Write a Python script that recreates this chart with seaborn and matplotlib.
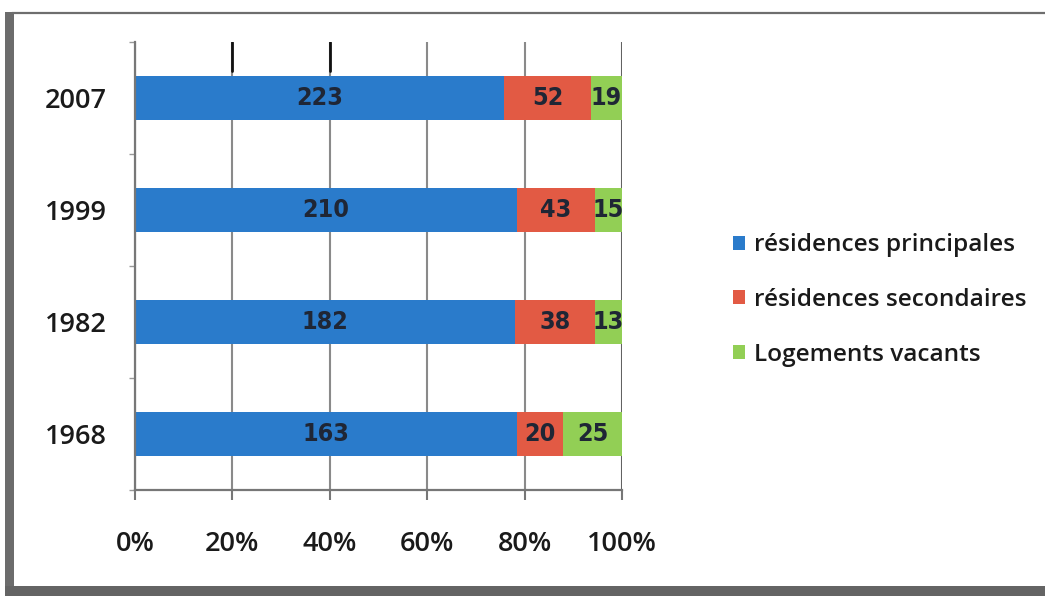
import numpy as np
import pandas as pd
import matplotlib
matplotlib.use("Agg")
import matplotlib.pyplot as plt
from matplotlib.patches import Patch, Rectangle
from matplotlib.lines import Line2D
import seaborn as sns

# Housing stock by year (number of dwellings)
years = ["2007", "1999", "1982", "1968"]
principales = [223, 210, 182, 163]
secondaires = [52, 43, 38, 20]
vacants = [19, 15, 13, 25]
series_names = ["résidences principales", "résidences secondaires", "Logements vacants"]
colors = ["#2A7BCB", "#E25A44", "#92CF55"]
x_ticks = [0, 20, 40, 60, 80, 100]

sns.set_theme(style="white")
plt.rcParams["font.family"] = ["Open Sans", "DejaVu Sans"]
plt.rcParams["font.weight"] = "semibold"

fig = plt.figure(figsize=(10.45, 5.96), dpi=100)
ax = fig.add_axes([0.1292, 0.1779, 0.466, 0.7517])

counts = np.array([principales, secondaires, vacants], dtype=float)
pct = counts / counts.sum(axis=0) * 100
cum = np.cumsum(pct, axis=0)

# 100% stacked bars: draw cumulative totals from back to front
for i in reversed(range(3)):
    df = pd.DataFrame({"year": years, "value": cum[i]})
    sns.barplot(data=df, x="value", y="year", orient="h", color=colors[i],
                saturation=1, width=0.39, linewidth=0, ax=ax, zorder=2)

# value labels centred in each segment
starts = cum - pct
for i in range(3):
    for j, year in enumerate(years):
        ax.text(starts[i, j] + pct[i, j] / 2, j, f"{int(counts[i, j])}",
                ha="center", va="center", fontsize=18, fontweight="bold",
                family=["DejaVu Sans"], fontstretch="condensed",
                color="#1f2635", clip_on=True, zorder=3)

ax.set_xlim(0, 100)
ax.set_ylim(3.5, -0.5)
ax.set_xticks(x_ticks)
ax.set_xticklabels([f"{t}%" for t in x_ticks])
ax.set_xlabel("")
ax.set_ylabel("")

ax.grid(axis="x", color="#8a8a8a", linewidth=1.5, zorder=0)
ax.grid(axis="y", visible=False)
ax.set_axisbelow(True)
ax.axvline(100, color="#555555", linewidth=1.8, zorder=1)
for x in (20, 40):
    ax.axvline(x, ymin=0.935, ymax=1.0, color="#111111", linewidth=2, zorder=1)

for s in ("top", "right"):
    ax.spines[s].set_visible(False)
for s in ("left", "bottom"):
    ax.spines[s].set_color("#777777")
    ax.spines[s].set_linewidth(1.6)

ax.tick_params(axis="x", direction="out", length=7, width=1.5, color="#777777",
               pad=22, labelsize=19.5, labelcolor="#1a1a1a", bottom=True)
ax.set_yticks([-0.5, 0.5, 1.5, 2.5, 3.5], minor=True)
ax.tick_params(axis="y", which="major", length=0, pad=20, labelsize=19.5,
               labelcolor="#1a1a1a")
ax.tick_params(axis="y", which="minor", direction="out", length=4, width=1,
               color="#999999", left=True)

handles = [Patch(facecolor=c, edgecolor="none") for c in colors]
fig.legend(handles, series_names, loc="center left",
           bbox_to_anchor=(733 / 1045, 1 - 300 / 596), frameon=False,
           fontsize=17.6, handlelength=0.5, handleheight=0.5,
           handletextpad=0.35, labelspacing=1.25, borderpad=0, borderaxespad=0,
           labelcolor="#1a1a1a")

# outer chart border
W, H = 1045, 596
fig.add_artist(Line2D([12 / W, 1.0], [1 - 13 / H, 1 - 13 / H],
                      transform=fig.transFigure, color="#6e6e6e", linewidth=1.6))
fig.add_artist(Rectangle((5 / W, 0), 9 / W, 1 - 12 / H,
                         transform=fig.transFigure, facecolor="#6c6c6c",
                         edgecolor="none"))
fig.add_artist(Rectangle((5 / W, 0), 1.0, 10 / H,
                         transform=fig.transFigure, facecolor="#646464",
                         edgecolor="none"))

fig.savefig("out.png", dpi=100)
